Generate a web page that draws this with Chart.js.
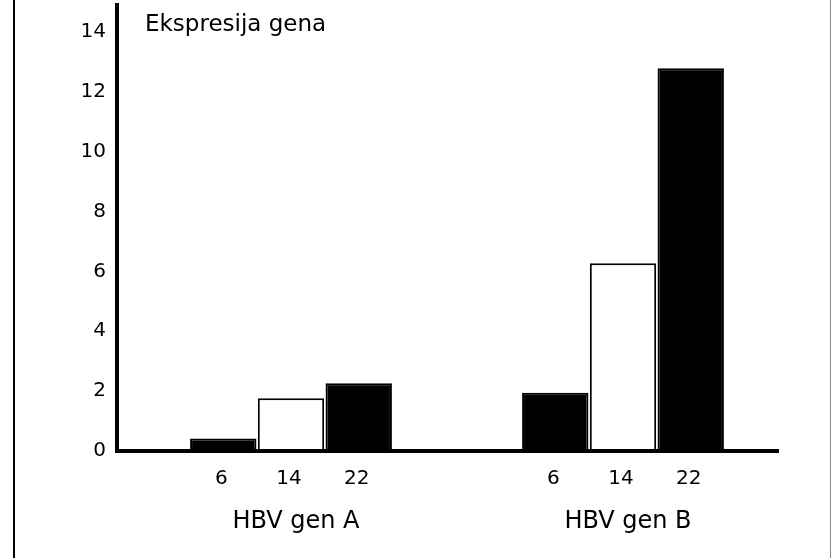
<!DOCTYPE html>
<html>
<head>
<meta charset="utf-8">
<script src="https://cdn.jsdelivr.net/npm/chart.js@4/dist/chart.umd.min.js"></script>
<style>
  html, body { margin: 0; padding: 0; background: #fff; }
  #wrap { width: 831px; height: 558px; }
</style>
</head>
<body>
<div id="wrap"><canvas id="chart" width="831" height="558"></canvas></div>
<script>
// chart data
var groups = ["HBV gen A", "HBV gen B"];
var seriesNames = ["6", "14", "22"];
var values6 = [0.42, 1.95];
var values14 = [1.76, 6.27];
var values22 = [2.26, 12.79];
var yMin = 0, yMax = 14, yStep = 2;
var chartTitle = "Ekspresija gena";

var font = "'DejaVu Sans', sans-serif";

// axes lines, frame, sub labels and the title
var decor = {
  id: "decor",
  beforeDraw: function(chart) {
    var ctx = chart.ctx;
    ctx.save();
    ctx.strokeStyle = "#000";
    ctx.lineWidth = 2;
    ctx.beginPath();
    ctx.moveTo(14, 0); ctx.lineTo(14, 558);
    ctx.stroke();
    ctx.strokeStyle = "#888";
    ctx.lineWidth = 1;
    ctx.beginPath();
    ctx.moveTo(830.5, 0); ctx.lineTo(830.5, 558);
    ctx.stroke();
    ctx.restore();
  },
  afterDatasetsDraw: function(chart) {
    var ctx = chart.ctx, a = chart.chartArea;
    var y0 = chart.scales.y.getPixelForValue(0);
    ctx.save();
    ctx.strokeStyle = "#000";
    ctx.lineWidth = 4;
    ctx.beginPath();
    ctx.moveTo(a.left - 8, 3); ctx.lineTo(a.left - 8, y0 + 2);
    ctx.moveTo(a.left - 10, y0); ctx.lineTo(a.right - 10, y0);
    ctx.stroke();

    ctx.fillStyle = "#000";
    ctx.font = "20px " + font;
    ctx.textAlign = "center";
    ctx.textBaseline = "middle";
    chart.data.datasets.forEach(function(ds, i) {
      chart.getDatasetMeta(i).data.forEach(function(bar) {
        ctx.fillText(ds.label, bar.x - 2, y0 + 28);
      });
    });

    ctx.font = "23px " + font;
    ctx.textAlign = "left";
    ctx.fillText(chartTitle, a.left + 20, 25);
    ctx.restore();
  }
};

var ctx = document.getElementById("chart").getContext("2d");
new Chart(ctx, {
  type: "bar",
  data: {
    labels: groups,
    datasets: [
      { label: seriesNames[0], data: values6, backgroundColor: "#000", borderColor: "#000", borderWidth: 2 },
      { label: seriesNames[1], data: values14, backgroundColor: "#fff", borderColor: "#000", borderWidth: 2 },
      { label: seriesNames[2], data: values22, backgroundColor: "#000", borderColor: "#000", borderWidth: 2 }
    ]
  },
  options: {
    responsive: false,
    animation: false,
    layout: { padding: { left: 0, top: 32, right: 42, bottom: 0 } },
    datasets: { bar: { categoryPercentage: 0.612, barPercentage: 0.98 } },
    plugins: { legend: { display: false }, tooltip: { enabled: false } },
    scales: {
      x: {
        grid: { display: false },
        border: { display: false },
        ticks: { color: "#000", font: { family: font, size: 24 }, padding: 48, labelOffset: 5 },
        afterFit: function(scale) { scale.height = 107; }
      },
      y: {
        min: yMin,
        max: yMax,
        grid: { display: false },
        border: { display: false },
        ticks: { stepSize: yStep, color: "#000", font: { family: font, size: 20 }, padding: 11 },
        afterFit: function(scale) { scale.width = 125; }
      }
    }
  },
  plugins: [decor]
});
</script>
</body>
</html>
